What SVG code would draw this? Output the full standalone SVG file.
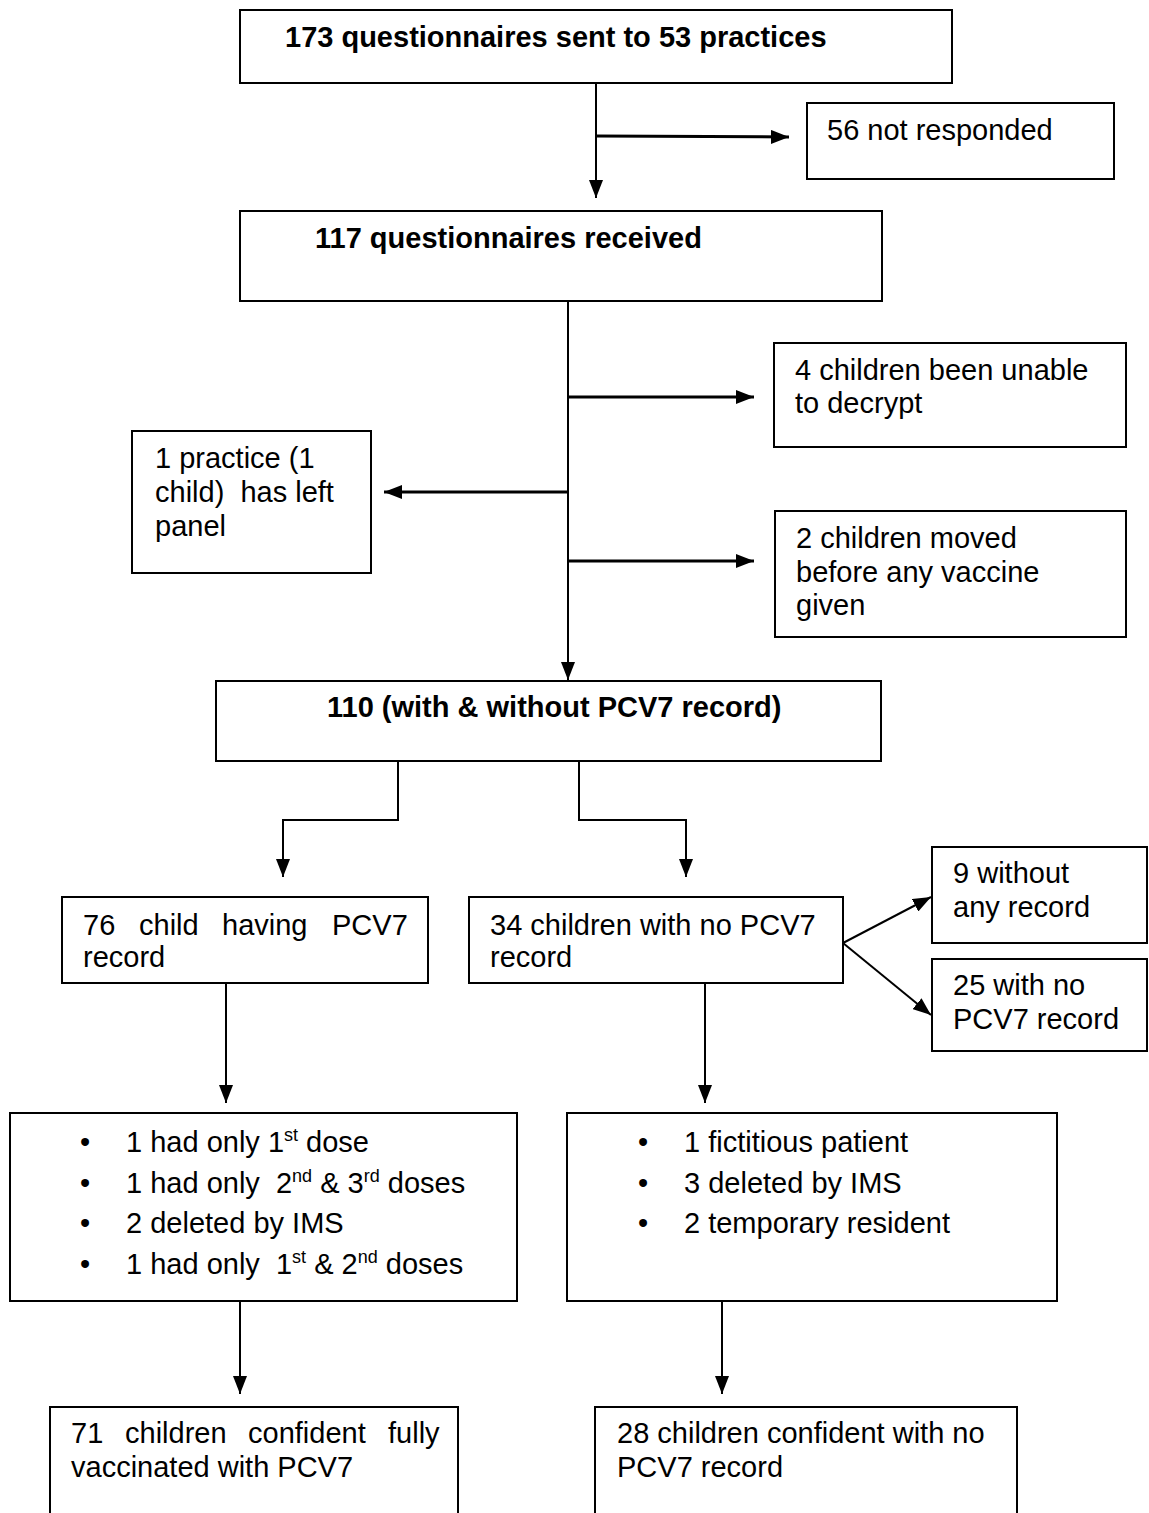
<svg xmlns="http://www.w3.org/2000/svg" width="1149" height="1513" viewBox="0 0 1149 1513">
<style>
.box{fill:#fff;stroke:#000;stroke-width:2}
text{font-family:"Liberation Sans",Arial,sans-serif;font-size:29px;fill:#000}
.b{font-weight:bold}
.ln{fill:none;stroke:#000;stroke-width:2}
.lt{fill:none;stroke:#000;stroke-width:3}
.sup{font-size:18px}
</style>
<defs>
<marker id="ah" markerUnits="userSpaceOnUse" markerWidth="18" markerHeight="14" refX="18" refY="7" orient="auto">
<path d="M0,0 L18,7 L0,14 z" fill="#000"/>
</marker>
</defs>
<rect width="1149" height="1513" fill="#fff"/>

<g id="connectors">
<path class="ln" d="M596,83 V198" marker-end="url(#ah)"/>
<path class="lt" d="M596,136 L789,137" marker-end="url(#ah)"/>
<path class="ln" d="M568,301 V680" marker-end="url(#ah)"/>
<path class="lt" d="M568,397 H754" marker-end="url(#ah)"/>
<path class="lt" d="M568,492 H384" marker-end="url(#ah)"/>
<path class="lt" d="M568,561 H754" marker-end="url(#ah)"/>
<path class="ln" d="M398,761 V820 H283 V877" marker-end="url(#ah)"/>
<path class="ln" d="M579,761 V820 H686 V877" marker-end="url(#ah)"/>
<path class="ln" d="M843,943 L931,897" marker-end="url(#ah)"/>
<path class="ln" d="M843,943 L931,1015" marker-end="url(#ah)"/>
<path class="ln" d="M226,983 V1103" marker-end="url(#ah)"/>
<path class="ln" d="M705,983 V1103" marker-end="url(#ah)"/>
<path class="ln" d="M240,1301 V1394" marker-end="url(#ah)"/>
<path class="ln" d="M722,1301 V1394" marker-end="url(#ah)"/>
</g>

<g id="n1">
<rect class="box" x="240" y="10" width="712" height="73"/>
<text class="b" x="285" y="47">173 questionnaires sent to 53 practices</text>
</g>
<g id="n2">
<rect class="box" x="807" y="103" width="307" height="76"/>
<text x="827" y="140">56 not responded</text>
</g>
<g id="n3">
<rect class="box" x="240" y="211" width="642" height="90"/>
<text class="b" x="315" y="248">117 questionnaires received</text>
</g>
<g id="n4">
<rect class="box" x="774" y="343" width="352" height="104"/>
<text x="795" y="380">4 children been unable</text>
<text x="795" y="413">to decrypt</text>
</g>
<g id="n5">
<rect class="box" x="132" y="431" width="239" height="142"/>
<text x="155" y="468">1 practice (1</text>
<text x="155" y="502" xml:space="preserve">child)  has left</text>
<text x="155" y="536">panel</text>
</g>
<g id="n6">
<rect class="box" x="775" y="511" width="351" height="126"/>
<text x="796" y="548">2 children moved</text>
<text x="796" y="582">before any vaccine</text>
<text x="796" y="615">given</text>
</g>
<g id="n7">
<rect class="box" x="216" y="681" width="665" height="80"/>
<text class="b" x="327" y="717">110 (with &amp; without PCV7 record)</text>
</g>
<g id="n8">
<rect class="box" x="62" y="897" width="366" height="86"/>
<text x="83" y="935">76</text>
<text x="139" y="935">child</text>
<text x="222" y="935">having</text>
<text x="332" y="935">PCV7</text>
<text x="83" y="967">record</text>
</g>
<g id="n9">
<rect class="box" x="469" y="897" width="374" height="86"/>
<text x="490" y="935">34 children with no PCV7</text>
<text x="490" y="967">record</text>
</g>
<g id="n10">
<rect class="box" x="932" y="847" width="215" height="96"/>
<text x="953" y="883">9 without</text>
<text x="953" y="917">any record</text>
</g>
<g id="n11">
<rect class="box" x="932" y="959" width="215" height="92"/>
<text x="953" y="995">25 with no</text>
<text x="953" y="1029">PCV7 record</text>
</g>
<g id="n12">
<rect class="box" x="10" y="1113" width="507" height="188"/>
<text x="80" y="1152">•</text>
<text x="80" y="1193">•</text>
<text x="80" y="1233">•</text>
<text x="80" y="1274">•</text>
<text x="126" y="1152" xml:space="preserve">1 had only 1<tspan class="sup" dy="-11">st</tspan><tspan dy="11"> dose</tspan></text>
<text x="126" y="1193" xml:space="preserve">1 had only  2<tspan class="sup" dy="-11">nd</tspan><tspan dy="11"> &amp; 3</tspan><tspan class="sup" dy="-11">rd</tspan><tspan dy="11"> doses</tspan></text>
<text x="126" y="1233">2 deleted by IMS</text>
<text x="126" y="1274" xml:space="preserve">1 had only  1<tspan class="sup" dy="-11">st</tspan><tspan dy="11"> &amp; 2</tspan><tspan class="sup" dy="-11">nd</tspan><tspan dy="11"> doses</tspan></text>
</g>
<g id="n13">
<rect class="box" x="567" y="1113" width="490" height="188"/>
<text x="638" y="1152">•</text>
<text x="638" y="1193">•</text>
<text x="638" y="1233">•</text>
<text x="684" y="1152">1 fictitious patient</text>
<text x="684" y="1193">3 deleted by IMS</text>
<text x="684" y="1233">2 temporary resident</text>
</g>
<g id="n14">
<rect class="box" x="50" y="1407" width="408" height="120"/>
<text x="71" y="1443">71</text>
<text x="125" y="1443">children</text>
<text x="248" y="1443">confident</text>
<text x="388" y="1443">fully</text>
<text x="71" y="1477">vaccinated with PCV7</text>
</g>
<g id="n15">
<rect class="box" x="595" y="1407" width="422" height="120"/>
<text x="617" y="1443">28 children confident with no</text>
<text x="617" y="1477">PCV7 record</text>
</g>
</svg>
